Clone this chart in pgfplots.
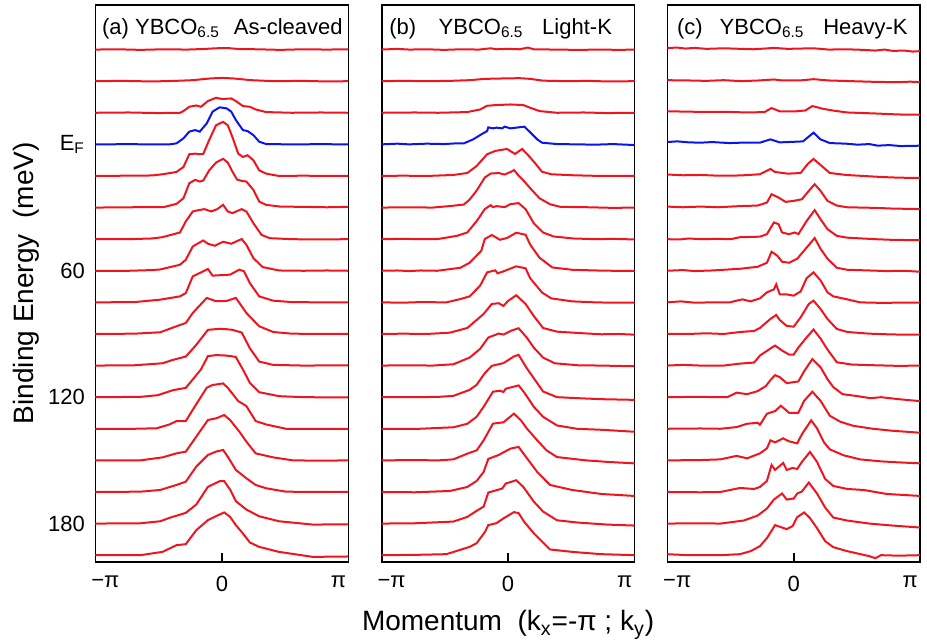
\documentclass[border=0pt]{standalone}
\usepackage{fontspec}
\setmainfont{Liberation Sans}
\usepackage{pgfplots}
\pgfplotsset{compat=1.18}

\definecolor{mdcred}{RGB}{240,20,30}
\definecolor{mdcblue}{RGB}{10,20,240}

% one MDC: colour, binding energy (meV), intensity in px above its baseline
\newcommand{\mdc}[3]{\addplot[#1, line width=1pt, y filter/.expression={#2-0.4753*y}] coordinates {#3};}

\pgfplotsset{
  mdcpanel/.style={
    width=126.4pt, height=278.5pt, scale only axis,
    xmin=-1.085, xmax=1.085, ymin=-66.3, ymax=198.1, y dir=reverse,
    clip mode=individual,
    axis line style={line width=0.8pt},
    xtick={0}, xticklabels={0},
    major tick length=4.3pt,
    xtick style={line width=0.8pt, black},
    extra x ticks={-1,1}, extra x tick labels={−π,π},
    extra x tick style={tick style={draw=none}},
    ytick style={draw=none},
    xtick pos=left,
    ytick=\empty,
    tick label style={font=\fontsize{11}{13}\selectfont},
    xticklabel style={yshift=-3.5pt},
  },
}
\tikzset{ttl/.style={anchor=base west, inner sep=0pt, font=\fontsize{11}{13}\selectfont}}

\begin{document}
\begin{tikzpicture}

%% (a) as-cleaved
\begin{axis}[mdcpanel, at={(0pt,0pt)}, anchor=south west,
  ytick={0,60,120,180}, yticklabels={E\textsubscript{F},60,120,180},
  yticklabel style={xshift=-1.8pt}]
\mdc{mdcred}{-45}{(-1.09,0) (-0.9,0.3) (-0.7,-0.3) (-0.5,0.3) (-0.3,0) (-0.15,0.6) (-0.05,1.3) (0.05,1.5) (0.15,0.5) (0.3,0.3) (0.5,-0.3) (0.7,0.3) (0.9,0) (1.09,0.3)}
\mdc{mdcred}{-30}{(-1.09,0) (-0.85,0.3) (-0.6,-0.3) (-0.4,0.3) (-0.25,1) (-0.1,2.7) (0,3.3) (0.1,2.7) (0.25,1) (0.45,0) (0.7,0.3) (0.9,-0.3) (1.09,0)}
\mdc{mdcred}{-15}{(-1.09,0) (-0.8,0.3) (-0.55,-0.3) (-0.36,0) (-0.33,1.7) (-0.28,6) (-0.22,7.3) (-0.18,6) (-0.12,11.7) (-0.05,15) (-0.01,14) (0.04,14) (0.08,14.3) (0.12,11.7) (0.18,6.7) (0.24,6) (0.29,3.3) (0.38,0.7) (0.6,0) (0.85,0.3) (1.09,0)}
\mdc{mdcblue}{0}{(-1.09,0) (-0.8,0.2) (-0.6,0) (-0.45,0) (-0.39,1) (-0.33,6) (-0.28,12.7) (-0.23,14.3) (-0.19,12.7) (-0.13,21) (-0.08,32.7) (-0.02,37) (0.04,36) (0.08,32.7) (0.12,24.3) (0.18,14.3) (0.22,13.3) (0.27,9.3) (0.32,2.7) (0.38,0.3) (0.6,0) (0.85,0.2) (1.09,0)}
\mdc{mdcred}{15}{(-1.09,0) (-0.8,0.3) (-0.6,0.5) (-0.51,1.7) (-0.39,4) (-0.33,9) (-0.28,21.7) (-0.23,22.3) (-0.19,21.7) (-0.16,22) (-0.11,35.7) (-0.05,50.7) (0.01,54) (0.05,50.7) (0.09,39) (0.14,22.3) (0.18,19) (0.22,20.7) (0.27,15.7) (0.32,5.7) (0.38,2.3) (0.49,0) (0.7,0.3) (0.9,0) (1.09,0)}
\mdc{mdcred}{30}{(-1.09,0) (-0.8,0.3) (-0.5,0.5) (-0.39,3.7) (-0.33,9.3) (-0.28,24.3) (-0.23,27.7) (-0.19,26) (-0.16,27) (-0.11,37) (-0.05,45) (0.01,48.7) (0.05,45) (0.09,36) (0.13,28) (0.17,26.7) (0.21,26) (0.27,17.7) (0.32,6) (0.38,2.7) (0.5,1) (0.7,0.7) (0.9,0.3) (1.09,0.7)}
\mdc{mdcred}{45}{(-1.09,0) (-0.8,0) (-0.6,0.7) (-0.51,2) (-0.36,6.7) (-0.31,17.7) (-0.25,27.7) (-0.2,29) (-0.15,30) (-0.09,27.7) (-0.04,30) (0.01,34.3) (0.05,27.7) (0.09,26) (0.17,30) (0.21,27.7) (0.27,16) (0.34,4.3) (0.41,1) (0.6,0) (0.8,-0.3) (1.09,0)}
\mdc{mdcred}{60}{(-1.09,0) (-0.8,0) (-0.6,0.7) (-0.53,1.3) (-0.36,6) (-0.31,11) (-0.25,24.3) (-0.16,30.3) (-0.12,27) (-0.06,25) (0.01,29) (0.08,27) (0.17,31.7) (0.21,26) (0.27,12.7) (0.35,3.7) (0.49,0.3) (0.7,0) (0.9,0.3) (1.09,0)}
\mdc{mdcred}{75}{(-1.09,0) (-0.75,0.3) (-0.53,2.7) (-0.36,6) (-0.31,9.3) (-0.25,26) (-0.16,31) (-0.12,33.3) (-0.08,26.7) (0.07,27.7) (0.15,32.7) (0.19,31) (0.24,19.3) (0.32,6) (0.44,1.7) (0.6,0.3) (0.85,0) (1.09,0)}
\mdc{mdcred}{90}{(-1.09,0) (-0.75,0.3) (-0.53,1.7) (-0.39,7.7) (-0.31,11) (-0.25,21) (-0.13,36) (-0.05,32.7) (0.04,33) (0.12,36) (0.21,21) (0.32,7.7) (0.44,2) (0.6,0.3) (0.85,0) (1.09,0)}
\mdc{mdcred}{105}{(-1.09,0) (-0.75,0.3) (-0.51,2.3) (-0.42,5.7) (-0.31,9) (-0.22,20.7) (-0.12,35.7) (-0.02,36.7) (0.04,36.3) (0.09,35.7) (0.17,33) (0.24,17.3) (0.32,4) (0.44,0.7) (0.7,0) (1.09,0.3)}
\mdc{mdcred}{120}{(-1.09,0) (-0.7,0.3) (-0.55,2) (-0.42,7) (-0.31,9.3) (-0.25,17.7) (-0.18,27.7) (-0.12,41) (-0.05,42) (0.02,41.7) (0.08,41) (0.12,40) (0.18,27.7) (0.24,14.3) (0.32,5) (0.49,1) (0.7,0) (1.09,-0.3)}
\mdc{mdcred}{135}{(-1.09,0) (-0.75,0) (-0.56,0.5) (-0.45,4.3) (-0.39,7.7) (-0.31,7.7) (-0.23,22.7) (-0.13,41) (-0.08,43.7) (0.01,45.3) (0.05,41) (0.14,27.7) (0.21,22.7) (0.29,7.7) (0.38,4.3) (0.55,0) (0.8,0) (1.09,0)}
\mdc{mdcred}{150}{(-1.09,0) (-0.7,0) (-0.51,3) (-0.39,7) (-0.31,8.7) (-0.22,23.7) (-0.12,40.3) (-0.05,42) (0.02,45.3) (0.07,40.3) (0.15,28.7) (0.21,18.7) (0.29,7) (0.44,3) (0.61,0) (0.85,-0.3) (1.09,0)}
\mdc{mdcred}{165}{(-1.09,0) (-0.7,0.3) (-0.53,2) (-0.39,7) (-0.31,10.3) (-0.22,25.3) (-0.12,37) (-0.05,40.3) (0.01,42) (0.05,35.3) (0.12,22) (0.21,13.7) (0.29,7) (0.38,3.7) (0.55,0.3) (0.8,0) (1.09,0)}
\mdc{mdcred}{180}{(-1.09,0) (-0.7,0.3) (-0.53,2.3) (-0.45,5.7) (-0.31,10.7) (-0.22,19) (-0.12,36.7) (-0.02,42.3) (0.02,42.3) (0.07,34) (0.12,22.3) (0.21,14) (0.32,7.3) (0.49,2.3) (0.78,-1) (1.09,-0.7)}
\mdc{mdcred}{195}{(-1.09,0) (-0.7,0) (-0.51,3.3) (-0.39,10) (-0.31,11) (-0.22,25) (-0.12,35) (-0.05,39) (0.02,42.7) (0.07,38.3) (0.12,30) (0.18,21.7) (0.24,12.7) (0.32,8.3) (0.49,3.3) (0.78,-1.7) (1.09,-1.3)}
\node[ttl] at ([xshift=3.1pt, yshift=-15pt]rel axis cs:0,1) {(a) YBCO\textsubscript{6.5}\hspace{7pt}As-cleaved};
\node[rotate=90, anchor=base, font=\fontsize{14}{16}\selectfont] at ([xshift=-31pt]rel axis cs:0,0.5) {Binding Energy\ \ (meV)};
\end{axis}

%% (b) light K dosing
\begin{axis}[mdcpanel, at={(143.1pt,0pt)}, anchor=south west]
\mdc{mdcred}{-45}{(-1.09,0) (-0.95,0.7) (-0.85,0) (-0.7,0.3) (-0.55,-0.3) (-0.4,0.3) (-0.25,0) (-0.15,1.3) (-0.1,0.3) (0.0,0.7) (0.1,0.3) (0.17,2) (0.22,0.3) (0.4,0) (0.6,-0.3) (0.8,0) (0.95,-0.3) (1.09,0)}
\mdc{mdcred}{-30}{(-1.09,0) (-0.9,0.3) (-0.7,0) (-0.5,0.3) (-0.33,1) (-0.2,2.3) (-0.05,2.7) (0.1,3) (0.19,2.3) (0.3,0.5) (0.5,0) (0.7,0.3) (0.85,-0.3) (1.09,0)}
\mdc{mdcred}{-15}{(-1.09,0) (-0.8,0.3) (-0.6,0) (-0.35,0.7) (-0.24,3.3) (-0.18,7) (-0.1,7.7) (0.02,8.3) (0.13,7.7) (0.19,5) (0.27,1.7) (0.42,0) (0.65,0.3) (0.85,-0.3) (1.09,0)}
\mdc{mdcblue}{0}{(-1.09,0) (-0.95,0.7) (-0.85,0) (-0.7,0.7) (-0.55,0.3) (-0.45,1) (-0.38,1) (-0.3,5) (-0.23,10) (-0.18,13.3) (-0.17,17) (-0.13,16) (-0.1,16.7) (-0.05,16) (-0.03,17.7) (0.02,16) (0.07,16.7) (0.14,17.7) (0.19,12) (0.25,5) (0.29,1.7) (0.42,0.3) (0.6,0) (0.75,-0.3) (0.9,0.3) (1.09,-0.7)}
\mdc{mdcred}{15}{(-1.09,0) (-0.9,0.3) (-0.7,0) (-0.47,1) (-0.35,3) (-0.27,10) (-0.18,21.7) (-0.11,25) (-0.01,27) (0.06,22) (0.12,27) (0.17,21) (0.23,13) (0.29,4.3) (0.37,1.7) (0.56,0.7) (0.8,0) (1.09,0)}
\mdc{mdcred}{30}{(-1.09,0) (-0.85,0.3) (-0.65,0) (-0.5,1.5) (-0.38,3) (-0.33,8) (-0.27,17) (-0.2,30) (-0.15,34) (-0.08,34.5) (-0.03,33) (0.03,36) (0.05,37.5) (0.09,32) (0.14,26) (0.2,18) (0.27,9.3) (0.36,3.3) (0.45,0.7) (0.7,0.3) (0.9,-0.3) (1.09,0)}
\mdc{mdcred}{45}{(-1.09,0) (-0.9,0.3) (-0.75,0) (-0.61,0) (-0.44,3.3) (-0.35,6.7) (-0.27,18) (-0.2,30) (-0.15,34) (-0.13,32) (-0.1,33) (-0.03,32) (0.02,35) (0.09,36) (0.15,30) (0.22,16) (0.3,6.7) (0.39,2.7) (0.56,0.7) (0.75,0) (0.9,0.3) (1.09,-0.3)}
\mdc{mdcred}{60}{(-1.09,0) (-0.95,0.3) (-0.85,-0.3) (-0.75,0.3) (-0.61,0) (-0.41,3) (-0.33,8) (-0.23,20) (-0.2,31.7) (-0.14,35.7) (-0.07,31) (-0.01,32.7) (0.07,38) (0.15,36) (0.19,26) (0.27,13) (0.38,3.3) (0.55,1) (0.75,0.3) (0.9,0) (1.09,0)}
\mdc{mdcred}{75}{(-1.09,0) (-0.9,-0.3) (-0.75,0.3) (-0.53,0) (-0.41,3.3) (-0.33,6) (-0.24,16.7) (-0.18,30) (-0.11,32) (-0.09,29) (-0.04,31) (0.07,36) (0.15,34) (0.19,24) (0.29,10) (0.37,4) (0.55,1) (0.75,0) (0.9,-0.3) (1.09,-0.3)}
\mdc{mdcred}{90}{(-1.09,0) (-0.9,0.3) (-0.7,0) (-0.5,1.3) (-0.35,6) (-0.27,14) (-0.21,20) (-0.14,30) (-0.08,30.7) (-0.04,28) (0.0,33) (0.07,38.7) (0.15,30) (0.22,18) (0.3,6) (0.42,2.3) (0.6,1) (0.8,-0.3) (0.95,0) (1.09,-0.7)}
\mdc{mdcred}{105}{(-1.09,0) (-0.85,0.3) (-0.65,0) (-0.47,1.3) (-0.33,8) (-0.24,16.7) (-0.17,28) (-0.08,32) (-0.04,31) (0.03,35) (0.09,37.3) (0.16,28) (0.22,18) (0.3,8) (0.4,2.3) (0.6,0.3) (0.8,0) (1.09,-0.7)}
\mdc{mdcred}{120}{(-1.09,0) (-0.8,0) (-0.6,0.3) (-0.47,1.3) (-0.33,7.3) (-0.27,12.3) (-0.2,24) (-0.14,31.3) (-0.04,34) (0.05,40.7) (0.09,42.3) (0.16,29) (0.19,24) (0.3,5.7) (0.42,0) (0.6,-1) (0.8,-2) (1.09,-2.7)}
\mdc{mdcred}{135}{(-1.09,0) (-0.76,0) (-0.47,1.5) (-0.35,5) (-0.27,12) (-0.21,22) (-0.13,37) (-0.07,38) (-0.04,36.7) (-0.02,40) (0.09,43.3) (0.14,36) (0.22,22) (0.3,12) (0.42,3.3) (0.59,0) (0.8,-1) (1.09,-3)}
\mdc{mdcred}{150}{(-1.09,0) (-0.8,0.3) (-0.6,0) (-0.47,1) (-0.35,6.7) (-0.27,10) (-0.21,20) (-0.13,36.7) (-0.04,38) (0.05,46.7) (0.11,40) (0.16,32) (0.25,20) (0.33,10) (0.42,3.3) (0.67,0) (0.85,-1.5) (1.09,-3)}
\mdc{mdcred}{165}{(-1.09,0) (-0.8,-0.3) (-0.5,1) (-0.35,5) (-0.27,11) (-0.21,20) (-0.17,33) (-0.08,37) (0.02,43.3) (0.09,45) (0.16,34) (0.25,20) (0.36,7) (0.55,2) (0.8,-2) (1.09,-4)}
\mdc{mdcred}{180}{(-1.09,0) (-0.8,0.3) (-0.47,2) (-0.35,6.7) (-0.27,12.7) (-0.21,17) (-0.17,31) (-0.11,33) (-0.05,35) (-0.02,40) (0.07,43.3) (0.13,36.7) (0.22,22) (0.3,12) (0.42,3.3) (0.6,1) (0.85,-1) (1.09,-2)}
\mdc{mdcred}{195}{(-1.09,0) (-0.8,0.3) (-0.53,1) (-0.33,8.3) (-0.27,12) (-0.2,23) (-0.17,30) (-0.1,32) (-0.04,36.7) (0.05,43) (0.09,42) (0.14,33) (0.22,22) (0.36,5.7) (0.55,3.3) (0.8,1) (1.09,0)}
\node[ttl] at ([xshift=3.65pt, yshift=-15pt]rel axis cs:0,1) {(b)\hspace{11.2pt}YBCO\textsubscript{6.5}\hspace{9.4pt}Light-K};
\node[anchor=base, font=\fontsize{14}{16}\selectfont] at ([yshift=-34.5pt]rel axis cs:0.5,0) {Momentum\ \ (k\textsubscript{x}=-π ; k\textsubscript{y})};
\end{axis}

%% (c) heavy K dosing
\begin{axis}[mdcpanel, at={(285.9pt,0pt)}, anchor=south west]
\mdc{mdcred}{-45}{(-1.09,1.5) (-1.0,2) (-0.93,1) (-0.85,1.7) (-0.75,0.7) (-0.6,1.3) (-0.45,0.7) (-0.35,0.3) (-0.25,1) (-0.17,1.7) (-0.05,0.7) (0.05,1) (0.17,1.3) (0.3,0) (0.45,0.3) (0.6,-0.3) (0.7,-1) (0.78,0) (0.85,-1.3) (0.95,-1) (1.02,-2) (1.09,-1.5)}
\mdc{mdcred}{-30}{(-1.09,1) (-0.9,0.7) (-0.75,0.3) (-0.6,1) (-0.45,0) (-0.3,0.7) (-0.17,1.7) (-0.1,0.7) (0.05,0.7) (0.17,2) (0.3,0.7) (0.5,0) (0.7,-0.7) (0.9,-1) (1.0,-0.5) (1.09,-1)}
\mdc{mdcred}{-15}{(-1.09,1.5) (-0.85,1) (-0.6,1) (-0.4,0.3) (-0.25,0.7) (-0.19,4.7) (-0.12,1.5) (0.0,1.3) (0.1,2.3) (0.16,6.7) (0.25,4) (0.35,2) (0.46,0.3) (0.7,-0.7) (0.9,-1.7) (1.09,-2)}
\mdc{mdcblue}{0}{(-1.09,2.3) (-1.0,3) (-0.9,2) (-0.8,1.7) (-0.7,2.3) (-0.55,1.3) (-0.45,1.7) (-0.29,1.7) (-0.2,5) (-0.16,3.5) (-0.12,2) (0.03,2.7) (0.08,3) (0.17,11.7) (0.23,5) (0.31,1.3) (0.45,0.7) (0.55,-0.3) (0.65,0.3) (0.72,-1.3) (0.82,-0.7) (0.92,-1.7) (1.09,-1.3)}
\mdc{mdcred}{15}{(-1.09,1.5) (-0.95,0.7) (-0.8,1) (-0.65,0.3) (-0.46,0.5) (-0.29,1.7) (-0.2,7) (-0.16,4) (-0.05,2.3) (0.06,3) (0.12,12) (0.17,17) (0.23,11) (0.31,3) (0.45,1) (0.6,0) (0.75,-1) (0.9,-1.7) (1.09,-2)}
\mdc{mdcred}{30}{(-1.09,1) (-0.95,0.3) (-0.8,1) (-0.65,0.3) (-0.46,1.5) (-0.31,2) (-0.23,5) (-0.19,13.3) (-0.13,10) (-0.07,5.7) (0.0,6.7) (0.07,8.3) (0.13,16.7) (0.18,23.3) (0.23,16.7) (0.29,6.7) (0.37,2) (0.46,0.3) (0.7,-0.3) (0.85,-1) (1.09,-1.5)}
\mdc{mdcred}{45}{(-1.09,0) (-0.98,-0.3) (-0.9,0.7) (-0.8,0) (-0.65,0.3) (-0.54,0) (-0.46,2) (-0.29,2.5) (-0.23,5) (-0.17,16.7) (-0.13,15) (-0.1,6.7) (-0.04,5) (0.01,6.7) (0.04,5) (0.11,18) (0.18,29) (0.23,20) (0.29,10) (0.37,3.3) (0.46,1.5) (0.7,0) (0.85,-0.7) (1.09,-1)}
\mdc{mdcred}{60}{(-1.09,0) (-0.95,0.7) (-0.85,-0.3) (-0.7,0.3) (-0.46,2) (-0.31,4) (-0.23,8) (-0.19,19) (-0.14,15) (-0.1,9) (-0.04,8) (0.03,12) (0.11,23) (0.18,32.7) (0.23,22) (0.29,12) (0.37,3) (0.46,1) (0.65,0.3) (0.8,-0.3) (0.95,0) (1.09,-1)}
\mdc{mdcred}{75}{(-1.09,0) (-0.97,1) (-0.85,-0.3) (-0.7,0) (-0.55,0) (-0.49,1.7) (-0.44,3) (-0.37,1) (-0.29,4) (-0.23,10) (-0.17,13) (-0.15,18) (-0.12,8) (-0.06,8) (0.0,6.7) (0.06,11) (0.11,24) (0.17,30) (0.23,22) (0.29,10) (0.34,6) (0.46,3) (0.57,0) (0.75,-0.5) (0.9,-0.3) (1.09,-0.3)}
\mdc{mdcred}{90}{(-1.09,0) (-0.9,0) (-0.75,0.7) (-0.6,0) (-0.46,2) (-0.34,3) (-0.29,6) (-0.2,15) (-0.15,19) (-0.12,14) (-0.06,8) (0.0,7.3) (0.06,16.7) (0.13,30) (0.17,33.3) (0.23,25) (0.29,15) (0.37,5) (0.46,2) (0.65,0.3) (0.85,-0.5) (1.09,-0.7)}
\mdc{mdcred}{105}{(-1.09,0) (-0.95,0.7) (-0.8,0) (-0.6,0) (-0.46,2) (-0.34,3) (-0.29,10) (-0.2,17) (-0.16,20) (-0.1,15) (-0.04,11) (0.0,11) (0.04,18) (0.11,28) (0.17,36) (0.23,27) (0.29,16) (0.37,3.3) (0.5,1) (0.7,0.3) (0.9,-0.3) (1.09,0)}
\mdc{mdcred}{120}{(-1.09,0) (-0.85,0.3) (-0.57,0) (-0.49,4.5) (-0.4,3) (-0.31,6) (-0.24,11) (-0.2,17) (-0.16,22) (-0.12,20) (-0.06,14) (0.0,15) (0.04,15.7) (0.09,26) (0.16,38) (0.23,30) (0.29,18) (0.34,10) (0.42,3) (0.55,1) (0.66,-1) (0.75,0) (0.9,-2) (1.09,-4)}
\mdc{mdcred}{135}{(-1.09,0) (-0.8,0.3) (-0.63,0) (-0.49,1.7) (-0.4,5) (-0.31,6) (-0.29,4) (-0.23,15) (-0.16,17.7) (-0.11,23) (-0.04,16) (0.04,16) (0.09,28) (0.16,37) (0.23,28) (0.31,13) (0.4,7) (0.51,3) (0.68,0) (0.85,-2) (1.09,-4)}
\mdc{mdcred}{150}{(-1.09,0) (-0.8,0.3) (-0.63,1) (-0.49,4.5) (-0.4,2) (-0.29,7) (-0.23,12) (-0.2,20) (-0.16,18) (-0.09,22) (-0.04,19) (0.03,17) (0.07,26) (0.15,40) (0.2,32) (0.26,18) (0.31,11) (0.43,5) (0.57,1) (0.75,-1) (0.9,-2) (1.09,-3)}
\mdc{mdcred}{165}{(-1.09,0) (-0.8,-0.3) (-0.63,0) (-0.46,4) (-0.34,3) (-0.29,5) (-0.23,11) (-0.19,27) (-0.16,22) (-0.09,29) (-0.06,22) (-0.01,24) (0.03,23) (0.07,30) (0.14,40) (0.2,30) (0.27,13) (0.34,6) (0.46,3) (0.6,2) (0.8,-2) (1.09,-4)}
\mdc{mdcred}{180}{(-1.09,0) (-0.8,0.3) (-0.63,0) (-0.43,3) (-0.31,8) (-0.23,15) (-0.17,24) (-0.1,30) (-0.06,24) (0.0,25) (0.03,30) (0.07,32) (0.13,41) (0.2,30) (0.27,16) (0.34,6) (0.46,3) (0.65,0) (0.85,-2) (1.09,-4)}
\mdc{mdcred}{195}{(-1.09,1) (-0.9,0) (-0.63,0) (-0.46,1) (-0.37,4) (-0.29,9) (-0.23,17) (-0.16,30) (-0.11,28) (-0.06,26) (-0.01,29) (0.03,38) (0.09,42.7) (0.14,37) (0.2,27) (0.27,14) (0.34,8) (0.46,4) (0.65,-1) (0.7,-3) (0.75,0) (0.9,-0.5) (1.09,0)}
\node[ttl] at ([xshift=4.7pt, yshift=-15pt]rel axis cs:0,1) {(c)\hspace{8.5pt}YBCO\textsubscript{6.5}\hspace{9.4pt}Heavy-K};
\end{axis}

\pgfresetboundingbox
\path (-47.75pt,-40.65pt) rectangle (415.75pt,280.85pt);
\end{tikzpicture}
\end{document}
